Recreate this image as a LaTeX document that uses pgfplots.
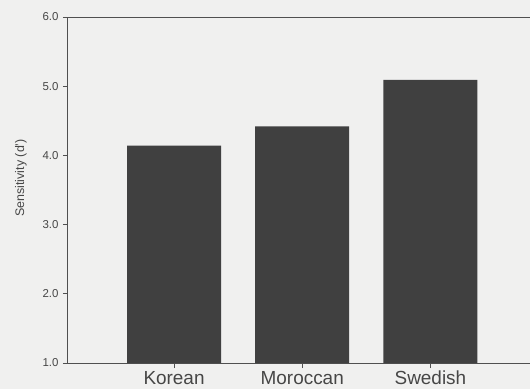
\documentclass[border=0pt]{standalone}
\usepackage{pgfplots}
\pgfplotsset{compat=1.18}
\usepackage{fontspec}
\setmainfont{Liberation Sans}

\definecolor{paper}{RGB}{240,240,239}
\definecolor{barfill}{RGB}{64,64,64}
\definecolor{inkgray}{RGB}{70,70,70}
\definecolor{linegray}{RGB}{80,80,80}

\begin{document}
\begin{tikzpicture}
  % page frame: the right spine of the axis falls outside it
  \path[use as bounding box, fill=paper] (-68bp,-26bp) rectangle (462bp,363bp);
  \begin{axis}[
    scale only axis,
    width=480bp, height=346bp,
    xmin=-0.827, xmax=2.917,
    ymin=1, ymax=6,
    ybar, bar width=94bp, bar shift=0pt,
    axis line style={draw=linegray, line width=1bp},
    ytick={1,2,3,4,5,6},
    yticklabel style={/pgf/number format/fixed, /pgf/number format/fixed zerofill,
                      /pgf/number format/precision=1,
                      font=\fontsize{11.5}{13}\selectfont, text=inkgray, xshift=-1bp},
    /pgf/number format/assume math mode=true,
    xtick={0,1,2},
    xticklabels={Korean, Moroccan, Swedish},
    xticklabel style={font=\fontsize{19}{22}\selectfont, text=inkgray,
                      text height=14bp, text depth=4bp, yshift=1bp},
    tick align=outside,
    major tick length=5bp,
    tick style={draw=linegray, line width=0.8bp},
    ytick pos=left, xtick pos=bottom,
    ylabel={Sensitivity (d')},
    ylabel style={font=\fontsize{12.5}{14}\selectfont, text=inkgray,
                  at={(axis description cs:-0.098,0.535)}, anchor=center},
  ]
    \addplot[fill=barfill, draw=none] coordinates {(0,4.14) (1,4.42) (2,5.09)};
  \end{axis}
\end{tikzpicture}
\end{document}
